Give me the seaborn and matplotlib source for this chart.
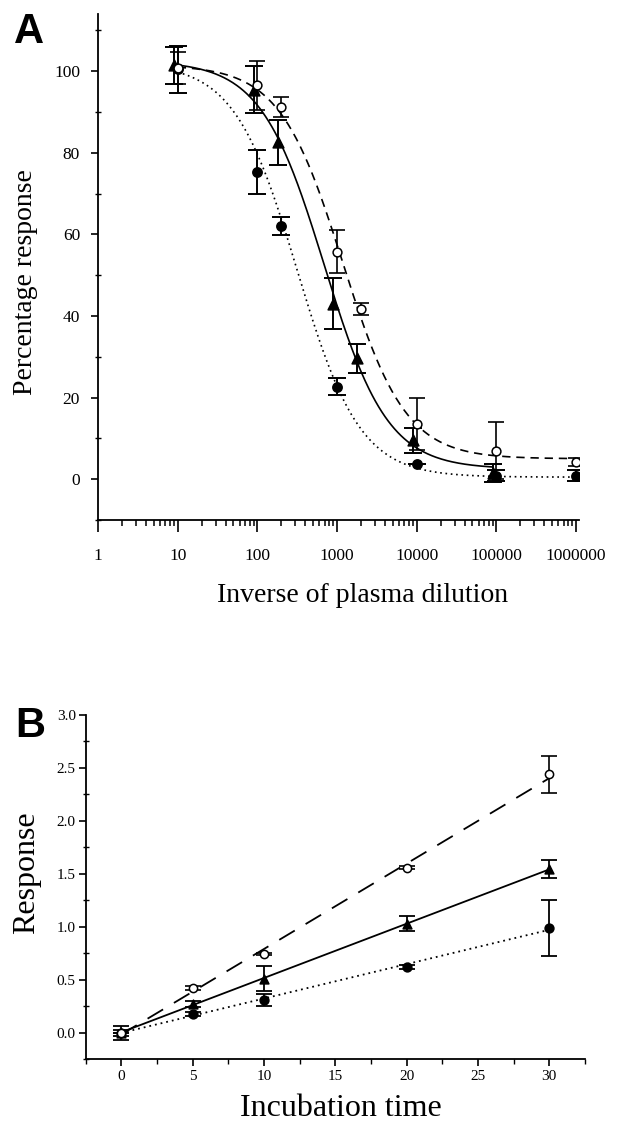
#!/usr/bin/env python3
"""
Figure: (A) dose-response of plasma dilution, (B) response vs incubation time
"""

import numpy as np
import matplotlib
matplotlib.use('Agg')
import matplotlib.pyplot as plt
import seaborn as sns
from matplotlib.ticker import MultipleLocator, LogLocator, FuncFormatter, NullFormatter

# 设置
sns.set_style('ticks')
plt.rcParams['font.family'] = ['Liberation Serif', 'DejaVu Serif']
plt.rcParams['axes.linewidth'] = 1.3
for key in ['text.color', 'axes.labelcolor', 'axes.edgecolor', 'xtick.color', 'ytick.color']:
    plt.rcParams[key] = 'black'

# ----------------------------------------------------------------------------
# Panel A data (inverse of plasma dilution vs percentage response)
# ----------------------------------------------------------------------------
TRI_DIL = [9, 90, 180, 900, 1800, 9000, 90000]
TRI_RESP = [101.5, 95.5, 82.6, 43.0, 29.6, 9.5, 1.5]
TRI_ERR = [4.5, 5.8, 5.5, 6.3, 3.6, 3.0, 2.2]

OPEN_DIL = [10, 100, 200, 1000, 2000, 10000, 100000, 1000000]
OPEN_RESP = [100.8, 96.6, 91.3, 55.8, 41.7, 13.5, 7.0, 4.2]
OPEN_ERR = [4.0, 6.0, 2.4, 5.2, 1.5, 6.3, 7.0, 0.9]

FILL_DIL = [10, 100, 200, 1000, 10000, 100000, 1000000]
FILL_RESP = [100.5, 75.3, 62.0, 22.7, 3.8, 0.9, 0.9]
FILL_ERR = [5.8, 5.5, 2.2, 2.1, 0.0, 1.3, 1.4]

# 4-parameter logistic fits: top, bottom, log10 EC50, hill
FIT_TRI = (102.5, 2.5, 2.84, 1.09)
FIT_OPEN = (101.5, 5.0, 3.07, 1.10)
FIT_FILL = (102.0, 0.5, 2.50, 1.10)

# ----------------------------------------------------------------------------
# Panel B data (incubation time vs response)
# ----------------------------------------------------------------------------
TIME = [0, 5, 10, 20, 30]
OPEN_B = [0.0, 0.42, 0.744, 1.556, 2.437]
OPEN_B_ERR = [0.0, 0.02, 0.01, 0.012, 0.175]
TRI_B = [0.0, 0.27, 0.51, 1.03, 1.54]
TRI_B_ERR = [0.065, 0.03, 0.12, 0.075, 0.085]
FILL_B = [0.0, 0.18, 0.31, 0.62, 0.99]
FILL_B_ERR = [0.03, 0.02, 0.06, 0.02, 0.265]

DOTTED = (0, (1.0, 2.2))
DASHED_A = (0, (5, 3.5))
DASHED_B = (0, (10, 7))


def logistic(x, top, bottom, logec50, hill):
    return bottom + (top - bottom) / (1 + 10 ** (hill * (np.log10(x) - logec50)))


def draw_series(ax, x, y, err, marker, face, ms, capsize, lw):
    ax.errorbar(x, y, yerr=err, fmt='none', ecolor='black', elinewidth=lw,
                capsize=capsize, capthick=lw, zorder=3)
    sns.scatterplot(x=x, y=y, ax=ax, marker=marker, s=ms, color=face,
                    edgecolor='black', linewidth=1.1, zorder=4, legend=False)


fig = plt.figure(figsize=(6.21, 11.24), dpi=100)

# ============================================================================
# Panel A
# ============================================================================
axA = fig.add_axes([0.158, 0.5374, 0.7746, 0.450])
axA.set_xscale('log')

for dil, fit, ls in [(TRI_DIL, FIT_TRI, '-'), (OPEN_DIL, FIT_OPEN, DASHED_A),
                     (FILL_DIL, FIT_FILL, DOTTED)]:
    xs = np.logspace(np.log10(min(dil)), np.log10(max(dil)), 300)
    sns.lineplot(x=xs, y=logistic(xs, *fit), ax=axA, color='black', lw=1.2,
                 linestyle=ls, estimator=None, sort=False, zorder=2)

draw_series(axA, TRI_DIL, TRI_RESP, TRI_ERR, '^', 'black', 60, 6.5, 1.4)
draw_series(axA, FILL_DIL, FILL_RESP, FILL_ERR, 'o', 'black', 45, 6.5, 1.4)
draw_series(axA, OPEN_DIL, OPEN_RESP, OPEN_ERR, 'o', 'white', 40, 6.0, 1.2)

axA.set_xlim(1, 1.1e6)
axA.set_ylim(-10, 114)
axA.xaxis.set_major_locator(LogLocator(base=10, numticks=10))
axA.xaxis.set_minor_locator(LogLocator(base=10, subs=np.arange(2, 10), numticks=20))
axA.xaxis.set_major_formatter(FuncFormatter(lambda v, p: f'{int(round(v))}'))
axA.xaxis.set_minor_formatter(NullFormatter())
axA.yaxis.set_major_locator(MultipleLocator(20))
axA.yaxis.set_minor_locator(MultipleLocator(10))
axA.tick_params(axis='x', which='major', direction='out', length=8.5, width=1.2,
                pad=12, labelsize=12.5)
axA.tick_params(axis='x', which='minor', direction='out', length=4.5, width=1.1)
axA.tick_params(axis='y', which='major', direction='out', length=5, width=1.2,
                pad=8, labelsize=12.5)
axA.tick_params(axis='y', which='minor', direction='inout', length=4, width=1.0)
sns.despine(ax=axA)

axA.set_xlabel('Inverse of plasma dilution', fontsize=20)
axA.set_ylabel('Percentage response', fontsize=20)
axA.xaxis.set_label_coords(0.549, -0.125)
axA.yaxis.set_label_coords(-0.125, 0.47)

# ============================================================================
# Panel B
# ============================================================================
axB = fig.add_axes([0.1378, 0.0576, 0.8042, 0.3066])

for y, ls in [(OPEN_B, DASHED_B), (TRI_B, '-'), (FILL_B, DOTTED)]:
    sns.regplot(x=TIME, y=y, ax=axB, ci=None, scatter=False,
                line_kws=dict(color='black', lw=1.3, linestyle=ls, zorder=2))

draw_series(axB, TIME, TRI_B, TRI_B_ERR, '^', 'black', 40, 6, 1.3)
draw_series(axB, TIME, FILL_B, FILL_B_ERR, 'o', 'black', 40, 6, 1.3)
draw_series(axB, TIME, OPEN_B, OPEN_B_ERR, 'o', 'white', 35, 6, 1.2)

axB.set_xlim(-2.5, 32.5)
axB.set_ylim(-0.25, 3.0)
axB.xaxis.set_major_locator(MultipleLocator(5))
axB.xaxis.set_minor_locator(MultipleLocator(2.5))
axB.yaxis.set_major_locator(MultipleLocator(0.5))
axB.yaxis.set_minor_locator(MultipleLocator(0.25))
axB.yaxis.set_major_formatter(FuncFormatter(lambda v, p: f'{v:.1f}'))
axB.tick_params(axis='x', which='major', direction='out', length=5, width=1.2,
                pad=3, labelsize=11)
axB.tick_params(axis='x', which='minor', direction='out', length=3.5, width=1.0)
axB.tick_params(axis='y', which='major', direction='out', length=5, width=1.2,
                pad=2, labelsize=11)
axB.tick_params(axis='y', which='minor', direction='inout', length=4, width=1.0)
sns.despine(ax=axB)

axB.set_xlabel('Incubation time', fontsize=23)
axB.set_ylabel('Response', fontsize=23)
axB.xaxis.set_label_coords(0.511, -0.1)
axB.yaxis.set_label_coords(-0.09, 0.54)

# panel letters
fig.text(0.022, 0.989, 'A', fontsize=30, fontweight='bold',
         family=['Liberation Sans', 'DejaVu Sans'], ha='left', va='top')
fig.text(0.024, 0.372, 'B', fontsize=30, fontweight='bold',
         family=['Liberation Sans', 'DejaVu Sans'], ha='left', va='top')

fig.savefig('out.png', dpi=100)
